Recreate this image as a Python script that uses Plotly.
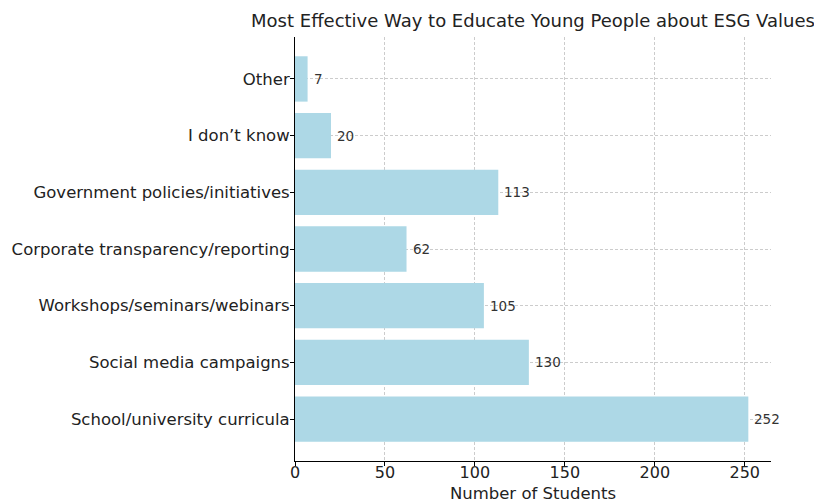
import plotly.graph_objects as go

# Survey responses: preferred channel for teaching ESG values
categories = [
    "School/university curricula",
    "Social media campaigns",
    "Workshops/seminars/webinars",
    "Corporate transparency/reporting",
    "Government policies/initiatives",
    "I don\u2019t know",
    "Other",
]
students = [252, 130, 105, 62, 113, 20, 7]
x_ticks = [0, 50, 100, 150, 200, 250]

FONT = "DejaVu Sans"
TEXT = "#222222"
GRID = "#cccccc"

fig = go.Figure(
    go.Bar(
        y=categories,
        x=students,
        orientation="h",
        width=0.8,
        marker=dict(color="#add8e6", line=dict(width=0)),
        hoverinfo="x+y",
    )
)

# value labels just past the end of each bar
for cat, val in zip(categories, students):
    fig.add_annotation(
        x=val, y=cat, text=str(val), showarrow=False,
        xanchor="left", yanchor="middle", xshift=4,
        font=dict(family=FONT, size=13.5, color="#333333"),
    )

x_max = max(students) * 1.05
n = len(categories)

fig.update_layout(
    width=814,
    height=503,
    margin=dict(l=295, r=43, t=37, b=42),
    paper_bgcolor="white",
    plot_bgcolor="white",
    font=dict(family=FONT, size=16, color=TEXT),
    showlegend=False,
    title=dict(
        text="Most Effective Way to Educate Young People about ESG Values",
        x=(295 + 771) / 2 / 814,
        xanchor="center",
        y=1 - 21 / 503,
        yanchor="middle",
        font=dict(family=FONT, size=18, color=TEXT),
    ),
    xaxis=dict(
        range=[0, x_max],
        tickvals=x_ticks,
        ticks="outside",
        ticklen=4,
        tickwidth=1,
        tickcolor="black",
        showline=True,
        linecolor="black",
        linewidth=1,
        showgrid=True,
        gridcolor=GRID,
        griddash="3px,2px",
        gridwidth=0.8,
        zeroline=False,
        layer="above traces",
        automargin=False,
        ticklabelstandoff=-7,
        tickfont=dict(family=FONT, size=16, color=TEXT),
        title=dict(text="Number of Students", standoff=22,
                   font=dict(family=FONT, size=16.5, color=TEXT)),
    ),
    yaxis=dict(
        range=[-0.74, n - 1 + 0.74],
        ticks="outside",
        ticklen=4,
        tickwidth=1,
        tickcolor="black",
        showline=True,
        linecolor="black",
        linewidth=1,
        showgrid=True,
        gridcolor=GRID,
        griddash="3px,2px",
        gridwidth=0.8,
        zeroline=False,
        layer="above traces",
        automargin=False,
        ticklabelstandoff=-3,
        tickfont=dict(family=FONT, size=16.5, color=TEXT),
    ),
)

fig.write_html("out.html")
